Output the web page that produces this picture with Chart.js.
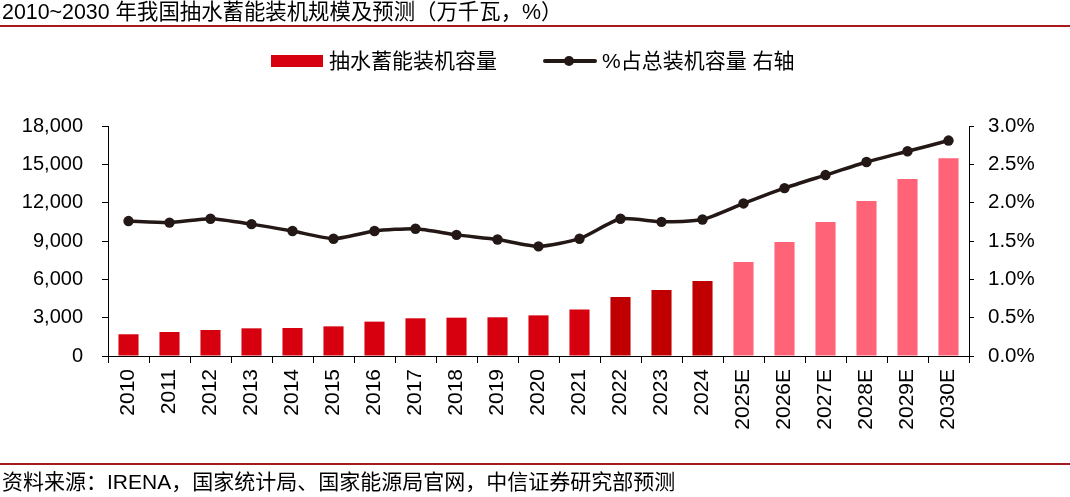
<!DOCTYPE html>
<html>
<head>
<meta charset="utf-8">
<script src="https://cdn.jsdelivr.net/npm/chart.js@4.4.1/dist/chart.umd.min.js"></script>
<style>
  html, body { margin: 0; padding: 0; background: #fff; }
  body { width: 1070px; height: 497px; position: relative; overflow: hidden;
         font-family: "Liberation Sans", Arial, "Noto Sans CJK SC", sans-serif; color: #000; }
  #chart { position: absolute; left: 0; top: 0; }
  .title { position: absolute; left: 2px; top: 2px; font-size: 21.4px; line-height: 21px; white-space: nowrap; }
  .rule { position: absolute; left: 0; width: 1070px; height: 1.5px; background: #a8191e; }
  .legend-text { position: absolute; top: 50px; font-size: 21px; line-height: 22px; white-space: nowrap; }
  .footer { position: absolute; left: 2px; top: 471px; font-size: 21px; line-height: 22px; white-space: nowrap; }
</style>
</head>
<body>
<canvas id="chart" width="1070" height="497"></canvas>

<div class="title">2010~2030 年我国抽水蓄能装机规模及预测（万千瓦，%）</div>
<div class="rule" style="top:25px"></div>

<!-- legend -->
<div style="position:absolute;left:271px;top:55px;width:52px;height:12px;background:#d7000f"></div>
<div class="legend-text" style="left:329px">抽水蓄能装机容量</div>
<div style="position:absolute;left:543px;top:59px;width:54px;height:4px;background:#231815;border-radius:2px"></div>
<div style="position:absolute;left:564px;top:56px;width:10px;height:10px;background:#231815;border-radius:50%"></div>
<div class="legend-text" style="left:602px">%占总装机容量 右轴</div>

<div class="rule" style="top:463px"></div>
<div class="footer">资料来源：IRENA，国家统计局、国家能源局官网，中信证券研究部预测</div>

<script>
// Data (万千瓦, %)
const years = ['2010', '2011', '2012', '2013', '2014', '2015', '2016', '2017', '2018', '2019', '2020',
  '2021', '2022', '2023', '2024', '2025E', '2026E', '2027E', '2028E', '2029E', '2030E'];
const capacity = [1700, 1880, 2035, 2165, 2190, 2320, 2690, 2950, 3000, 3030, 3180,
  3630, 4620, 5165, 5870, 7360, 8920, 10490, 12130, 13850, 15480];
const shareOfTotal = [1.76, 1.74, 1.79, 1.72, 1.63, 1.53, 1.63, 1.66, 1.58, 1.52, 1.43,
  1.53, 1.79, 1.75, 1.78, 1.99, 2.19, 2.36, 2.53, 2.67, 2.81];
const leftTicks = [0, 3000, 6000, 9000, 12000, 15000, 18000];
const rightTicks = [0, 0.5, 1.0, 1.5, 2.0, 2.5, 3.0];

// colour per bar: forecast years pink, 2022-2024 dark red, rest red
function barColor(label) {
  if (label.endsWith('E')) return '#ff6378';
  if (parseInt(label) >= 2022) return '#c00000';
  return '#d7000f';
}

const FONT = '"Liberation Sans", Arial, sans-serif';
const lineColor = '#231815';

const ctx = document.getElementById('chart').getContext('2d');
new Chart(ctx, {
  type: 'bar',
  data: {
    labels: years,
    datasets: [
      {
        type: 'line',
        label: '%占总装机容量 右轴',
        data: shareOfTotal,
        yAxisID: 'y1',
        borderColor: lineColor,
        backgroundColor: lineColor,
        borderWidth: 3.5,
        pointRadius: 5.2,
        pointBackgroundColor: lineColor,
        pointBorderWidth: 0,
        tension: 0.2,
        order: 0
      },
      {
        label: '抽水蓄能装机容量',
        data: capacity,
        yAxisID: 'y',
        backgroundColor: years.map(barColor),
        categoryPercentage: 1.0,
        barPercentage: 0.49,
        order: 1
      }
    ]
  },
  options: {
    responsive: false,
    animation: false,
    layout: { padding: { top: 126, left: 0, right: 0, bottom: 0 } },
    plugins: { legend: { display: false }, tooltip: { enabled: false } },
    scales: {
      x: {
        offset: true,
        grid: { offset: true, drawOnChartArea: false, drawTicks: true, tickLength: 7, color: '#000', lineWidth: 1 },
        border: { color: '#000', width: 1 },
        ticks: { minRotation: 90, maxRotation: 90, autoSkip: false, padding: 6, color: '#000', font: { family: FONT, size: 21 } },
        afterFit: (scale) => { scale.height = 141; }
      },
      y: {
        position: 'left',
        min: 0,
        max: 18000,
        afterBuildTicks: (scale) => { scale.ticks = leftTicks.map(v => ({ value: v })); },
        grid: { drawOnChartArea: false, tickLength: 6, color: '#000' },
        border: { color: '#000', width: 1 },
        ticks: {
          padding: 19, color: '#000', font: { family: FONT, size: 20 },
          callback: (v) => v.toLocaleString('en-US')
        },
        afterFit: (scale) => { scale.width = 108; }
      },
      y1: {
        position: 'right',
        min: 0,
        max: 3,
        afterBuildTicks: (scale) => { scale.ticks = rightTicks.map(v => ({ value: v })); },
        grid: { drawOnChartArea: false, tickLength: 5, color: '#000' },
        border: { color: '#000', width: 1 },
        ticks: {
          padding: 14, color: '#000', font: { family: FONT, size: 20.5 },
          callback: (v) => v.toFixed(1) + '%'
        },
        afterFit: (scale) => { scale.width = 101; }
      }
    }
  }
});
</script>
</body>
</html>
